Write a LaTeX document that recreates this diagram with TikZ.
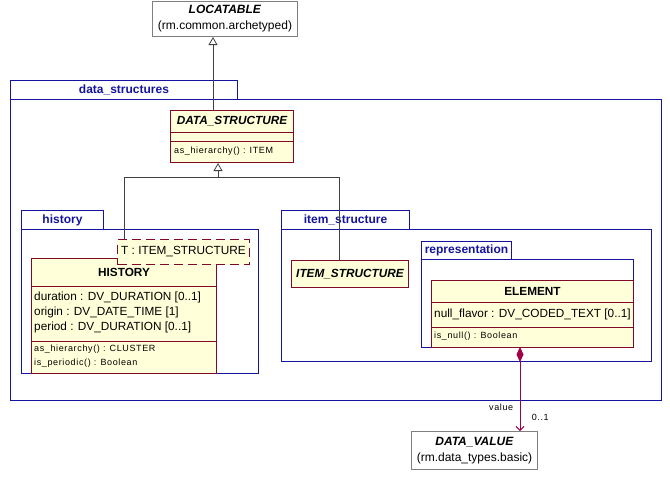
\documentclass[tikz,border=0pt]{standalone}
\usepackage{fontspec}
\setmainfont{Liberation Sans}
\newfontfamily\opsfont[LetterSpace=7]{Liberation Sans}
\usetikzlibrary{arrows.meta}
\definecolor{pkgcolor}{HTML}{1414A0}
\definecolor{classborder}{HTML}{7F0A28}
\definecolor{classfill}{HTML}{FFFFD9}
\definecolor{compcolor}{HTML}{A00045}
\definecolor{extborder}{HTML}{808080}
\newcommand{\nametext}{\fontsize{11.8}{14}\bfseries\selectfont}
\newcommand{\attrtext}{\fontsize{11.8}{14}\selectfont}
\newcommand{\optext}{\opsfont\fontsize{9}{10}\selectfont}
\tikzstyle{pkgbox} = [
    draw=pkgcolor,
    line width=1pt,
    rectangle,
    anchor=north west,
    inner sep=0pt
    ]
\tikzstyle{pkgtitle} = [
    text=pkgcolor,
    font=\fontsize{12}{14}\bfseries\selectfont,
    inner sep=0pt
    ]
\tikzstyle{classbox} = [
    draw=classborder,
    fill=classfill,
    line width=1pt,
    rectangle,
    anchor=north west,
    inner sep=0pt
    ]
\tikzstyle{tmplbox} = [
    classbox,
    dash pattern=on 9pt off 5pt,
    font=\attrtext
    ]
\tikzstyle{extbox} = [
    draw=extborder,
    fill=white,
    line width=1pt,
    rectangle,
    anchor=north west,
    align=center,
    font=\fontsize{12}{16}\selectfont
    ]
\tikzstyle{compline} = [draw=classborder, line width=1pt]
\tikzstyle{attr} = [font=\attrtext, anchor=west, inner sep=0pt]
\tikzstyle{oper} = [font=\optext, anchor=west, inner sep=0pt]
\tikzstyle{inh} = [
    draw=black!75,
    line width=0.8pt,
    -{Triangle[open, length=8pt, width=9pt, fill=white]}
    ]
\tikzstyle{comp} = [
    draw=compcolor,
    line width=1pt,
    {Diamond[length=15pt, width=7pt]}-{Straight Barb[length=4pt, width=8pt]}
    ]

\begin{document}
\begin{tikzpicture}[x=1pt, y=-1pt]
\useasboundingbox (0,0) rectangle (670,488);

% packages
\node[pkgbox, minimum width=227pt, minimum height=19pt] (dstab) at (10,80) {};
\node[pkgbox, minimum width=651pt, minimum height=301pt] (dspkg) at (10,99) {};
\node[pkgtitle] at (dstab.center) {data\_structures};

\node[pkgbox, minimum width=82pt, minimum height=19pt] (histtab) at (21,210) {};
\node[pkgbox, minimum width=237pt, minimum height=144pt] (histpkg) at (21,229) {};
\node[pkgtitle] at (histtab.center) {history};

\node[pkgbox, minimum width=128pt, minimum height=19pt] (istab) at (281,210) {};
\node[pkgbox, minimum width=370pt, minimum height=132pt] (ispkg) at (281,229) {};
\node[pkgtitle] at (istab.center) {item\_structure};

\node[pkgbox, minimum width=90pt, minimum height=18pt] (reptab) at (421,241) {};
\node[pkgbox, minimum width=212pt, minimum height=88pt] (reppkg) at (421,259) {};
\node[pkgtitle] at (reptab.center) {representation};

% outside classes
\node[extbox, minimum width=145pt, minimum height=35pt] (loc) at (152,1)
    {\textbf{\textit{LOCATABLE}}\\(rm.common.archetyped)};
\node[extbox, minimum width=126pt, minimum height=38pt] (dv) at (411,431)
    {\textbf{\textit{DATA\_VALUE}}\\(rm.data\_types.basic)};

% DATA_STRUCTURE
\node[classbox, minimum width=123pt, minimum height=52pt] (ds) at (170,110) {};
\draw[compline] ([yshift=-22pt]ds.north west) -- ([yshift=-22pt]ds.north east);
\draw[compline] ([yshift=-31pt]ds.north west) -- ([yshift=-31pt]ds.north east);
\node[font=\nametext\itshape] (dsname) at ([yshift=-11pt]ds.north) {DATA\_STRUCTURE};
\node[oper] (dsop) at ([xshift=4pt, yshift=-41pt]ds.north west) {as\_hierarchy() : ITEM};

% HISTORY
\node[classbox, minimum width=185pt, minimum height=115pt] (hist) at (31,258) {};
\draw[compline] ([yshift=-28pt]hist.north west) -- ([yshift=-28pt]hist.north east);
\draw[compline] ([yshift=-83pt]hist.north west) -- ([yshift=-83pt]hist.north east);
\node[font=\nametext] (histname) at ([yshift=-14pt]hist.north) {HISTORY};
\node[attr] (histdur) at ([xshift=3pt, yshift=-39pt]hist.north west) {duration : DV\_DURATION [0..1]};
\node[attr] (historg) at ([xshift=3pt, yshift=-54pt]hist.north west) {origin : DV\_DATE\_TIME [1]};
\node[attr] (histper) at ([xshift=3pt, yshift=-69pt]hist.north west) {period : DV\_DURATION [0..1]};
\node[oper] (histop1) at ([xshift=3pt, yshift=-91pt]hist.north west) {as\_hierarchy() : CLUSTER};
\node[oper] (histop2) at ([xshift=3pt, yshift=-105pt]hist.north west) {is\_periodic() : Boolean};
\node[tmplbox, minimum width=132pt, minimum height=25pt] (tmpl) at (117,239) {T : ITEM\_STRUCTURE};

% ITEM_STRUCTURE
\node[classbox, minimum width=117pt, minimum height=27pt, font=\nametext\itshape] (istruct) at (291,260) {ITEM\_STRUCTURE};

% ELEMENT
\node[classbox, minimum width=202pt, minimum height=67pt] (elem) at (431,280) {};
\draw[compline] ([yshift=-22pt]elem.north west) -- ([yshift=-22pt]elem.north east);
\draw[compline] ([yshift=-47pt]elem.north west) -- ([yshift=-47pt]elem.north east);
\node[font=\nametext] (elemname) at ([yshift=-11pt]elem.north) {ELEMENT};
\node[attr] (elemnull) at ([xshift=3pt, yshift=-34pt]elem.north west) {null\_flavor : DV\_CODED\_TEXT [0..1]};
\node[oper] (elemop) at ([xshift=3pt, yshift=-56pt]elem.north west) {is\_null() : Boolean};

% inheritance
\coordinate (locfoot) at (213,110);
\draw[inh] (locfoot) -- (locfoot |- loc.south);
\coordinate (dsfork) at (218,177);
\coordinate (forkL) at (124,177);
\coordinate (forkR) at (339,177);
\draw[draw=black!75, line width=0.8pt] (tmpl.north -| forkL) -- (forkL) -- (forkR) -- (forkR |- istruct.north);
\draw[inh] (dsfork) -- (dsfork |- ds.south);

% composition
\coordinate (elemfoot) at (520,347);
\draw[comp] (elemfoot) -- (elemfoot |- dv.north)
    node[pos=0.72, left=3pt, font=\optext] (vallabel) {value}
    node[pos=0.84, right=8pt, font=\optext] (multlabel) {0..1};
\end{tikzpicture}
\end{document}
